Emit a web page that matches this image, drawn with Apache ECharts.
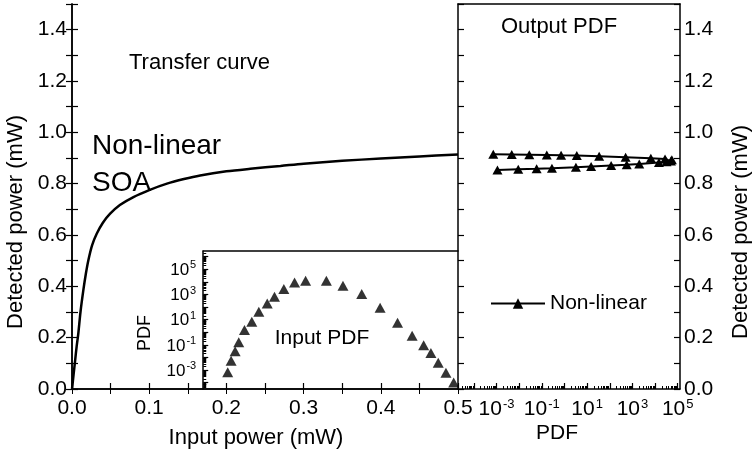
<!DOCTYPE html>
<html>
<head>
<meta charset="utf-8">
<script src="https://cdn.jsdelivr.net/npm/echarts@6.0.0/dist/echarts.min.js"></script>
<style>
html,body{margin:0;padding:0;background:#fff;}
#chart{width:754px;height:454px;}
</style>
</head>
<body>
<div id="chart"></div>
<script>
// ---- Data ----
// Transfer curve (input power mW -> detected power mW)
const curveX = [0, 0.002, 0.004, 0.006, 0.0082, 0.011, 0.0147, 0.018, 0.0212, 0.026, 0.032, 0.04, 0.0494, 0.062,
                0.0796, 0.1, 0.123, 0.145, 0.166, 0.2, 0.231, 0.27, 0.3, 0.35, 0.4, 0.45, 0.5];
const curveY = [0, 0.055, 0.11, 0.165, 0.217, 0.30, 0.385, 0.45, 0.502, 0.56, 0.605, 0.648, 0.683, 0.717,
                0.748, 0.775, 0.800, 0.818, 0.832, 0.848, 0.858, 0.869, 0.878, 0.889, 0.898, 0.906, 0.914];

// Inset: input PDF vs input power
const inputPowerX = [0.2017, 0.2061, 0.2113, 0.216, 0.2234, 0.2329, 0.242, 0.2529, 0.2623, 0.2744, 0.2883, 0.3026,
                     0.3295, 0.351, 0.3753, 0.3991, 0.4217, 0.4406, 0.4555, 0.4649, 0.4744, 0.4844, 0.4944];
const inputPdf = [6.6e-4, 5.5e-3, 3.2e-2, 0.16, 1.5, 6.8, 43, 195, 660, 2700, 9100, 12300,
                  12300, 4900, 1070, 87, 5.6, 0.52, 0.095, 0.023, 3.8e-3, 6.2e-4, 1.05e-4];

// Right panel: output PDF (x) vs detected power (y), in drawing order along the curve
const outputPdf = [1.1e-3, 9.1e-3, 0.059, 0.28, 3.2, 15, 115, 560, 2000, 14800, 32000, 50000,
                   55000, 27500, 6500, 500, 34, 3.5, 0.71, 0.166, 0.028, 4.7e-3, 7.2e-4];
const outputPower = [0.853, 0.856, 0.858, 0.860, 0.864, 0.867, 0.871, 0.874, 0.877, 0.882, 0.885, 0.888,
                     0.893, 0.896, 0.899, 0.903, 0.907, 0.910, 0.911, 0.912, 0.913, 0.914, 0.915];

// Tick labels
const logLabelValues = [1e-3, 1e-1, 1e1, 1e3, 1e5];
const seriesName = 'Non-linear';

// ---- helpers for axis ticks ----
function decades(lo, hi) { const a = []; for (let e = lo; e <= hi; e++) a.push(Math.pow(10, e)); return a; }
function minors(lo, hi) { const a = []; for (let e = lo; e <= hi; e++) for (let k = 2; k <= 9; k++) a.push(k * Math.pow(10, e)); return a; }

const FONT = 'Liberation Sans, Arial, sans-serif';
const BLACK = '#000';
const powFmt = v => '{b|10}{s|' + Math.round(Math.log10(v)) + '}';
const tenthFmt = v => (Math.round(v * 10) % 2 === 0 ? v.toFixed(1) : '');
const lineStyle = {color: BLACK, width: 1.5};

const xMainMin = 0, xMainMax = 0.5;
const insetXMin = 0.17;
const rightLogMin = Math.pow(10, -4.7), rightLogMax = Math.pow(10, 5.1);
const insetLogMin = Math.pow(10, -4.5), insetLogMax = Math.pow(10, 6.45);

const chart = echarts.init(document.getElementById('chart'), null, {renderer: 'canvas'});

const option = {
  animation: false,
  backgroundColor: '#fff',
  textStyle: {fontFamily: FONT, color: BLACK},
  grid: [
    {left: 72, top: 4, width: 386, height: 385},
    {left: 72 + insetXMin * 772, top: 251, width: (0.5 - insetXMin) * 772, height: 138},
    {left: 458, top: 4, width: 222, height: 385}
  ],
  legend: {
    data: [seriesName], left: 490, top: 293, padding: 0,
    itemWidth: 54, itemHeight: 13, itemGap: 6,
    textStyle: {fontSize: 21, color: BLACK, fontFamily: FONT}
  },
  xAxis: [
    { // main bottom
      gridIndex: 0, type: 'value', min: xMainMin, max: xMainMax, interval: 0.05, position: 'bottom',
      axisLine: {lineStyle}, axisTick: {inside: true, length: 6, lineStyle: {color: BLACK, width: 1.2}},
      axisLabel: {formatter: v => (Math.round(v * 100) % 10 === 0 ? v.toFixed(1) : ''), fontSize: 21, color: BLACK, margin: 9, fontFamily: FONT},
      splitLine: {show: false}
    },
    { // main top mirror
      gridIndex: 0, type: 'value', min: xMainMin, max: xMainMax, interval: 0.05, position: 'top',
      axisLine: {lineStyle}, axisTick: {inside: true, length: 5, lineStyle: {color: BLACK, width: 1}},
      axisLabel: {show: false}, splitLine: {show: false}
    },
    { // inset (top border only)
      gridIndex: 1, type: 'value', min: insetXMin, max: xMainMax, position: 'top',
      axisLine: {lineStyle}, axisTick: {show: false}, axisLabel: {show: false}, splitLine: {show: false}
    },
    { // right panel bottom log
      gridIndex: 2, type: 'log', min: rightLogMin, max: rightLogMax, position: 'bottom',
      axisLine: {lineStyle},
      axisTick: {inside: true, length: 6, customValues: decades(-4, 5), lineStyle: {color: BLACK, width: 1.2}},
      axisLabel: {customValues: logLabelValues, formatter: powFmt, margin: 9, color: BLACK,
        rich: {b: {fontSize: 21, fontFamily: FONT, color: BLACK, verticalAlign: 'bottom'},
               s: {fontSize: 13, fontFamily: FONT, color: BLACK, verticalAlign: 'bottom', padding: [0, 0, 9, 1]}}},
      splitLine: {show: false}, minorTick: {show: false}
    },
    { // right panel minor ticks
      gridIndex: 2, type: 'log', min: rightLogMin, max: rightLogMax, position: 'bottom',
      axisLine: {show: false},
      axisTick: {inside: true, length: 3, customValues: minors(-5, 5), lineStyle: {color: BLACK, width: 1}},
      axisLabel: {show: false}, splitLine: {show: false}
    },
    { // right panel top
      gridIndex: 2, type: 'log', min: rightLogMin, max: rightLogMax, position: 'top',
      axisLine: {lineStyle}, axisTick: {show: false}, axisLabel: {show: false}, splitLine: {show: false}
    }
  ],
  yAxis: [
    { // main left
      gridIndex: 0, type: 'value', min: 0, max: 1.5, interval: 0.1, position: 'left',
      axisLine: {lineStyle}, axisTick: {inside: true, length: 6, lineStyle: {color: BLACK, width: 1.2}},
      axisLabel: {formatter: tenthFmt, fontSize: 21, color: BLACK, margin: 5, fontFamily: FONT},
      splitLine: {show: false}
    },
    { // main right mirror
      gridIndex: 0, type: 'value', min: 0, max: 1.5, interval: 0.1, position: 'right',
      axisLine: {lineStyle}, axisTick: {inside: true, length: 6, lineStyle: {color: BLACK, width: 1.2}},
      axisLabel: {show: false}, splitLine: {show: false}
    },
    { // inset log
      gridIndex: 1, type: 'log', min: insetLogMin, max: insetLogMax, position: 'left',
      axisLine: {lineStyle},
      axisTick: {inside: true, length: 5, customValues: decades(-4, 6), lineStyle: {color: BLACK, width: 1.2}},
      axisLabel: {customValues: logLabelValues, formatter: powFmt, margin: 7, color: BLACK,
        rich: {b: {fontSize: 17, fontFamily: FONT, color: BLACK, verticalAlign: 'bottom'},
               s: {fontSize: 11, fontFamily: FONT, color: BLACK, verticalAlign: 'bottom', padding: [0, 0, 8, 1]}}},
      splitLine: {show: false}
    },
    { // inset minor ticks
      gridIndex: 1, type: 'log', min: insetLogMin, max: insetLogMax, position: 'left',
      axisLine: {show: false},
      axisTick: {inside: true, length: 3, customValues: minors(-5, 6), lineStyle: {color: BLACK, width: 1}},
      axisLabel: {show: false}, splitLine: {show: false}
    },
    { // right panel right axis
      gridIndex: 2, type: 'value', min: 0, max: 1.5, interval: 0.1, position: 'right',
      axisLine: {lineStyle}, axisTick: {inside: true, length: 6, lineStyle: {color: BLACK, width: 1.2}},
      axisLabel: {formatter: tenthFmt, fontSize: 21, color: BLACK, margin: 4, fontFamily: FONT},
      splitLine: {show: false}
    },
    { // right panel left border
      gridIndex: 2, type: 'value', min: 0, max: 1.5, interval: 0.1, position: 'left',
      axisLine: {lineStyle}, axisTick: {inside: true, length: 6, lineStyle: {color: BLACK, width: 1.2}},
      axisLabel: {show: false}, splitLine: {show: false}
    }
  ],
  series: [
    {
      type: 'line', xAxisIndex: 0, yAxisIndex: 0,
      data: curveX.map((x, i) => [x, curveY[i]]),
      smooth: 0.3, showSymbol: false, symbol: 'none',
      lineStyle: {color: BLACK, width: 2.5}
    },
    {
      type: 'scatter', xAxisIndex: 2, yAxisIndex: 2,
      data: inputPowerX.map((x, i) => [x, inputPdf[i]]),
      symbol: 'triangle', symbolSize: [11, 10], itemStyle: {color: BLACK}
    },
    {
      name: seriesName, type: 'line', xAxisIndex: 3, yAxisIndex: 4,
      data: outputPdf.map((x, i) => [x, outputPower[i]]),
      symbol: 'triangle', symbolSize: [10, 9], showAllSymbol: true,
      itemStyle: {color: BLACK}, lineStyle: {color: BLACK, width: 2}
    }
  ],
  graphic: [
    {type: 'text', x: 129, y: 63, style: {text: 'Transfer curve', font: '22px ' + FONT, fill: BLACK, textAlign: 'left', textVerticalAlign: 'middle'}},
    {type: 'text', x: 92, y: 146, style: {text: 'Non-linear', font: '28px ' + FONT, fill: BLACK, textAlign: 'left', textVerticalAlign: 'middle'}},
    {type: 'text', x: 92, y: 183, style: {text: 'SOA', font: '28px ' + FONT, fill: BLACK, textAlign: 'left', textVerticalAlign: 'middle'}},
    {type: 'text', x: 322, y: 338, style: {text: 'Input PDF', font: '21px ' + FONT, fill: BLACK, textAlign: 'center', textVerticalAlign: 'middle'}},
    {type: 'text', x: 559, y: 27, style: {text: 'Output PDF', font: '22px ' + FONT, fill: BLACK, textAlign: 'center', textVerticalAlign: 'middle'}},
    {type: 'text', x: 256, y: 438, style: {text: 'Input power (mW)', font: '22px ' + FONT, fill: BLACK, textAlign: 'center', textVerticalAlign: 'middle'}},
    {type: 'text', x: 557, y: 433, style: {text: 'PDF', font: '21px ' + FONT, fill: BLACK, textAlign: 'center', textVerticalAlign: 'middle'}},
    {type: 'text', x: 16, y: 222, rotation: Math.PI / 2, style: {text: 'Detected power (mW)', font: '22px ' + FONT, fill: BLACK, textAlign: 'center', textVerticalAlign: 'middle'}},
    {type: 'text', x: 741, y: 232, rotation: Math.PI / 2, style: {text: 'Detected power (mW)', font: '22px ' + FONT, fill: BLACK, textAlign: 'center', textVerticalAlign: 'middle'}},
    {type: 'text', x: 145, y: 333, rotation: Math.PI / 2, style: {text: 'PDF', font: '18px ' + FONT, fill: BLACK, textAlign: 'center', textVerticalAlign: 'middle'}}
  ]
};
chart.setOption(option);
</script>
</body>
</html>
